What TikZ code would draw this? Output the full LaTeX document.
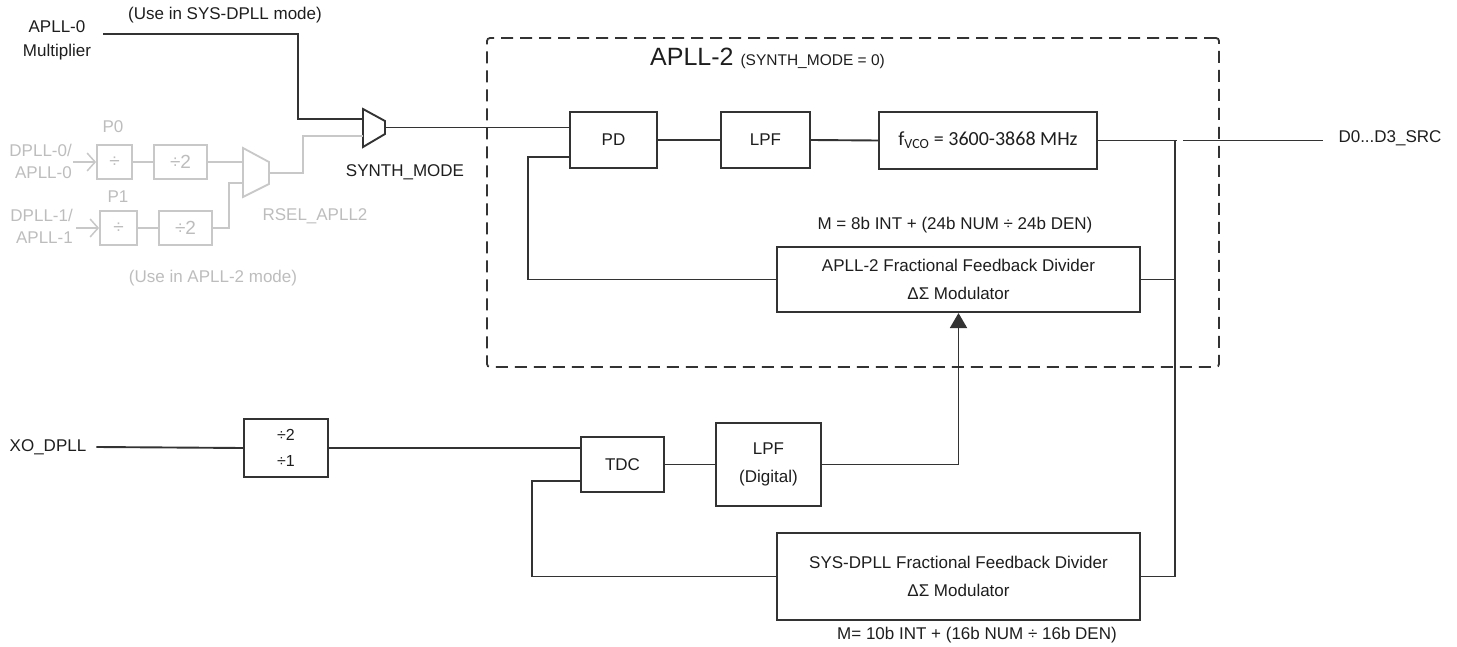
\documentclass[tikz,border=0pt]{standalone}
\usepackage{fontspec}
\setmainfont{Liberation Sans}
\newfontfamily\calib{Carlito}
\usetikzlibrary{arrows.meta}
\definecolor{ln}{HTML}{333333}
\definecolor{lg}{HTML}{C8C8C8}
\definecolor{tg}{HTML}{BDBDBD}
\definecolor{tx}{HTML}{1E1E1E}
\newcommand{\fsz}{\fontsize{17}{21}\selectfont}
\begin{document}
\begin{tikzpicture}[x=1pt,y=-1pt,
  box/.style={draw=ln, line width=2.1pt, fill=white, inner sep=0pt, font=\fsz, text=tx, align=center},
  gbox/.style={draw=lg, line width=1.8pt, fill=white, inner sep=0pt, text=tg, font=\fontsize{19}{21}\selectfont},
  wire/.style={draw=ln, line width=1.9pt},
  gwire/.style={draw=lg, line width=1.8pt},
  lbl/.style={inner sep=0pt, font=\fsz, text=tx, align=center},
  glbl/.style={inner sep=0pt, font=\fsz, text=tg, align=center},
  garrow/.style={-{Straight Barb[length=8pt,width=18pt,line width=1.5pt]}}
]
\useasboundingbox (0,0) rectangle (1457,647);

% dashed APLL-2 enclosure
\node[draw=ln, line width=1.8pt, dash pattern=on 12pt off 7pt, rounded corners=3pt,
      minimum width=732pt, minimum height=329pt, inner sep=0pt] (encl) at (853,202.5) {};
\node[anchor=base west, inner sep=0pt, text=tx] (title) at (650,66)
  {\fontsize{25}{25}\selectfont APLL-2 \fontsize{15.5}{16}\selectfont(SYNTH\_MODE = 0)};

% APLL-2 loop blocks
\node[box, minimum width=87pt, minimum height=56pt] (PD) at (613.5,140) {PD};
\node[box, minimum width=89pt, minimum height=56pt] (LPF) at (765.5,140) {LPF};
\node[box, minimum width=218pt, minimum height=57pt, font=\calib\fontsize{20}{22}\selectfont] (VCO) at (988,140.5)
  {f\textsubscript{VCO} = 3600-3868 MHz};
\node[box, minimum width=363pt, minimum height=65pt, font=\fontsize{17}{28}\selectfont] (FFD2) at (958.5,279.5)
  {APLL-2 Fractional Feedback Divider\\ΔΣ Modulator};
\node[lbl] (m2) at (955,225) {M = 8b INT + (24b NUM ÷ 24b DEN)};

% SYS-DPLL blocks
\node[lbl] (XO) at (48,447) {XO\_DPLL};
\node[box, minimum width=84pt, minimum height=58pt, font=\fontsize{16}{26}\selectfont] (Div) at (286,448) {÷2\\÷1};
\node[box, minimum width=83pt, minimum height=55pt] (TDC) at (622.5,464.5) {TDC};
\node[box, minimum width=105pt, minimum height=83pt, font=\fontsize{17}{28}\selectfont] (LPFD) at (768.5,464.5) {LPF\\(Digital)};
\node[box, minimum width=363pt, minimum height=87pt, font=\fontsize{17}{28}\selectfont] (FFDS) at (958.5,576.5)
  {SYS-DPLL Fractional Feedback Divider\\ΔΣ Modulator};
\node[lbl] (ms) at (977,635) {M= 10b INT + (16b NUM ÷ 16b DEN)};

% output
\node[lbl] (D0) at (1390,138) {D0...D3\_SRC};

% top-left inputs
\node[lbl, font=\fontsize{17}{24}\selectfont] (A0) at (57,40) {APLL-0\\Multiplier};
\node[lbl] (use1) at (225,15) {(Use in SYS-DPLL mode)};
\coordinate (a0) at (103,34);

% SYNTH_MODE mux
\coordinate (smA) at (363,119);
\coordinate (smB) at (363,136);
\coordinate (smO) at (385,127.5);
\draw[wire, fill=white] (363,109) -- (385,121) -- (385,134) -- (363,147) -- cycle;
\node[lbl] (smlbl) at (405,172) {SYNTH\_MODE};

% greyed APLL-2 reference path
\node[glbl] (P0) at (113,127) {P0};
\node[glbl] (P1) at (118,197) {P1};
\node[glbl, anchor=east, align=right, font=\fontsize{17}{22}\selectfont] (dl0) at (72,161) {DPLL-0/\\APLL-0};
\node[glbl, anchor=east, align=right, font=\fontsize{17}{22}\selectfont] (dl1) at (73,226) {DPLL-1/\\APLL-1};
\node[gbox, minimum width=35pt, minimum height=34pt] (g0) at (114.5,162) {÷};
\node[gbox, minimum width=53pt, minimum height=34pt] (g0b) at (180.5,162) {÷2};
\node[gbox, minimum width=37pt, minimum height=34pt] (g1) at (118.5,228) {÷};
\node[gbox, minimum width=53pt, minimum height=34pt] (g1b) at (185.5,228) {÷2};
\coordinate (rsA) at (243,162);
\coordinate (rsB) at (243,183);
\coordinate (rsO) at (269,173);
\draw[gwire, fill=white] (243,148) -- (269,162) -- (269,184) -- (243,197) -- cycle;
\node[glbl] (rsel) at (315,216) {RSEL\_APLL2};
\node[glbl] (use2) at (213,278) {(Use in APLL-2 mode)};

\draw[gwire, garrow] ([xshift=1pt]dl0.east |- g0.west) -- (g0.west);
\draw[gwire, garrow] ([xshift=3pt]dl1.east |- g1.west) -- (g1.west);
\draw[gwire] (g0.east) -- (g0b.west);
\draw[gwire] (g1.east) -- (g1b.west);
\draw[gwire] (g0b.east) -- (rsA);
\draw[gwire] (g1b.east) -- ++(16,0) |- (rsB);
\draw[gwire] (smB) -- ++(-60,0) |- (rsO);

% black wiring
\draw[wire] (a0) -| ([xshift=-65pt]smA) -- (smA);
\draw[wire] (smO) -- (smO -| PD.west);
\draw[wire] (PD.east) -- (LPF.west);
\draw[wire] (LPF.east) -- (VCO.west);
\coordinate (jn) at (1175,140.5);
\draw[wire] (VCO.east) -- ([xshift=2pt]jn);
\draw[line width=1.4pt, draw=ln] ([xshift=8pt]jn) -- ([xshift=-15pt]D0.west |- jn);
\draw[wire] (jn) |- (FFD2.east);
\draw[wire] (FFDS.east) -| (jn);
\draw[wire] (FFD2.west) -| ([xshift=-41pt,yshift=-17pt]PD.west) -- ([yshift=-17pt]PD.west);

\draw[wire] ([xshift=10pt]XO.east) -- (Div.west);
\draw[wire] (Div.east) -- (Div.east -| TDC.west);
\draw[wire] (TDC.east) -- (LPFD.west);
\draw[wire, -{Triangle[length=15pt,width=17pt]}] (LPFD.east) -| (FFD2.south);
\draw[wire] (FFDS.west) -| ([xshift=-48pt,yshift=-16.5pt]TDC.west) -- ([yshift=-16.5pt]TDC.west);
\end{tikzpicture}
\end{document}
